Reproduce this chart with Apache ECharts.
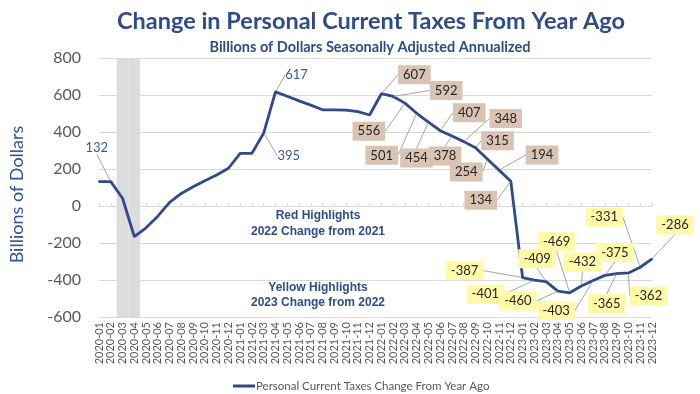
<!DOCTYPE html>
<html>
<head>
<meta charset="utf-8">
<script src="https://cdn.jsdelivr.net/npm/echarts@6/dist/echarts.min.js"></script>
<style>html,body{margin:0;padding:0;background:#fff}#c{width:700px;height:394px}</style>
</head>
<body>
<div id="c"></div>
<script>
var categories = [
 '2020-01','2020-02','2020-03','2020-04','2020-05','2020-06','2020-07','2020-08','2020-09','2020-10','2020-11','2020-12',
 '2021-01','2021-02','2021-03','2021-04','2021-05','2021-06','2021-07','2021-08','2021-09','2021-10','2021-11','2021-12',
 '2022-01','2022-02','2022-03','2022-04','2022-05','2022-06','2022-07','2022-08','2022-09','2022-10','2022-11','2022-12',
 '2023-01','2023-02','2023-03','2023-04','2023-05','2023-06','2023-07','2023-08','2023-09','2023-10','2023-11','2023-12'
];
var taxChange = [
 132,132,42,-165,-118,-55,20,68,104,137,168,204,
 285,285,395,617,593,568,545,520,520,518,510,492,
 607,592,556,501,454,407,378,348,315,254,194,134,
 -387,-401,-409,-460,-469,-432,-403,-375,-365,-362,-331,-286
];
var recessionMonths = ['2020-03','2020-04'];
var yTicks = {min: -600, max: 800, interval: 200};

// label groups (by index) and label offsets (layout only)
var plainLabels = [1, 14, 15];
var redLabels = [24,25,26,27,28,29,30,31,32,33,34,35];
var yellowLabels = [36,37,38,39,40,41,42,43,44,45,46,47];
var labelOffsets = {
 1:[-14,-34], 14:[25,23], 15:[21,-17],
 24:[33,-19], 25:[53,-6], 26:[-36,28], 27:[-35,42], 28:[-12,36], 29:[29,-18],
 30:[-7,20], 31:[42,-23], 32:[22,-7], 33:[-21,13], 34:[43,-15], 35:[-30,19],
 36:[-58,-7], 37:[-49,14], 38:[-9,-23], 39:[-40,10], 40:[-13,-51], 41:[1,-24],
 42:[-37,30], 43:[10,-23], 44:[-10,30], 45:[20,23], 46:[-36,-50], 47:[23,-34]
};

var BLUE = '#2F4B8A';
var FONT = 'Lato';

var lineData = taxChange.map(function (v, i) {
  var item = {value: v};
  var base = {show: true, position: 'inside', fontFamily: FONT, fontSize: 13};
  if (plainLabels.indexOf(i) >= 0) {
    item.label = Object.assign({}, base, {color: '#3B5A8C'});
  } else if (redLabels.indexOf(i) >= 0) {
    item.label = Object.assign({}, base, {color: '#262626', backgroundColor: '#D9C4B4', padding: [3, 5]});
  } else if (yellowLabels.indexOf(i) >= 0) {
    item.label = Object.assign({}, base, {color: '#262626', backgroundColor: '#FFF9A8', padding: [3, 5]});
  }
  return item;
});

var chart = echarts.init(document.getElementById('c'), null, {renderer: 'canvas'});
chart.setOption({
  animation: false,
  backgroundColor: '#fff',
  title: [
    {text: 'Change in Personal Current Taxes From Year Ago', left: 366, top: 4, textAlign: 'center',
     textStyle: {fontFamily: FONT, fontWeight: 'bold', fontSize: 23.5, color: BLUE}},
    {text: 'Billions of Dollars Seasonally Adjusted Annualized', left: 365, top: 35, textAlign: 'center',
     textStyle: {fontFamily: FONT, fontWeight: 'bold', fontSize: 14.5, color: BLUE}}
  ],
  grid: {left: 99, right: 48, top: 58, bottom: 77, containLabel: false, outerBoundsMode: 'none'},
  legend: {
    data: ['Personal Current Taxes Change From Year Ago'],
    left: 228, top: 375, itemWidth: 22, itemHeight: 3, icon: 'rect', itemGap: 2,
    textStyle: {fontFamily: FONT, fontSize: 11.5, color: '#595959', padding: [0, 0, 0, -4]}
  },
  xAxis: [
    {type: 'category', data: categories, boundaryGap: false, position: 'bottom',
     axisLine: {show: false, onZero: false}, axisTick: {show: false},
     axisLabel: {interval: 0, rotate: 90, fontFamily: FONT, fontSize: 11, color: '#595959', margin: 5},
     splitLine: {show: false}},
    {type: 'category', data: categories, boundaryGap: false, position: 'bottom',
     axisLine: {show: true, onZero: true, lineStyle: {color: '#D9D9D9', width: 1}},
     axisTick: {show: true, inside: true, length: 3, interval: 0, lineStyle: {color: '#D9D9D9'}},
     axisLabel: {show: false}, splitLine: {show: false}}
  ],
  yAxis: {
    type: 'value', min: yTicks.min, max: yTicks.max, interval: yTicks.interval,
    name: 'Billions of Dollars', nameLocation: 'middle', nameGap: 73, nameRotate: 90,
    nameTextStyle: {fontFamily: FONT, fontSize: 18, color: '#2F5597', padding: [0, 0, 0, -14]},
    axisLine: {show: false}, axisTick: {show: false},
    axisLabel: {fontFamily: FONT, fontSize: 16, color: '#595959', margin: 18},
    splitLine: {lineStyle: {color: '#D9D9D9', width: 1}}
  },
  graphic: [
    {type: 'text', x: 318, y: 216, z: 10,
     style: {text: 'Red Highlights', fill: BLUE, font: 'bold 12px "Liberation Sans"', textAlign: 'center', textVerticalAlign: 'middle'}},
    {type: 'text', x: 318, y: 232, z: 10,
     style: {text: '2022 Change from 2021', fill: BLUE, font: 'bold 12px "Liberation Sans"', textAlign: 'center', textVerticalAlign: 'middle'}},
    {type: 'text', x: 318, y: 288, z: 10,
     style: {text: 'Yellow Highlights', fill: BLUE, font: 'bold 12px "Liberation Sans"', textAlign: 'center', textVerticalAlign: 'middle'}},
    {type: 'text', x: 318, y: 303, z: 10,
     style: {text: '2023 Change from 2022', fill: BLUE, font: 'bold 12px "Liberation Sans"', textAlign: 'center', textVerticalAlign: 'middle'}}
  ],
  series: [
    {type: 'custom', name: 'recession', data: recessionMonths.map(function (m) { return [m]; }),
     encode: {x: 0}, z: 1, silent: true,
     renderItem: function (params, api) {
       var idx = api.value(0);
       var top = api.coord([idx, yTicks.max]);
       var bot = api.coord([idx, yTicks.min]);
       var w = api.size([1, 0])[0];
       return {type: 'rect', shape: {x: top[0] - w / 2, y: top[1], width: w, height: bot[1] - top[1]},
               style: {fill: '#DCDBDD'}};
     }},
    {type: 'line', name: 'Personal Current Taxes Change From Year Ago', data: lineData,
     z: 5, clip: false, showSymbol: true, showAllSymbol: true, symbol: 'circle', symbolSize: 2,
     itemStyle: {color: BLUE}, lineStyle: {color: BLUE, width: 2.8},
     label: {show: false},
     labelLine: {show: true, lineStyle: {color: '#A6A6A6', width: 1}},
     labelLayout: function (p) {
       var o = labelOffsets[p.dataIndex];
       if (!o) return {};
       return {dx: o[0], dy: o[1]};
     }}
  ]
});
</script>
</body>
</html>
